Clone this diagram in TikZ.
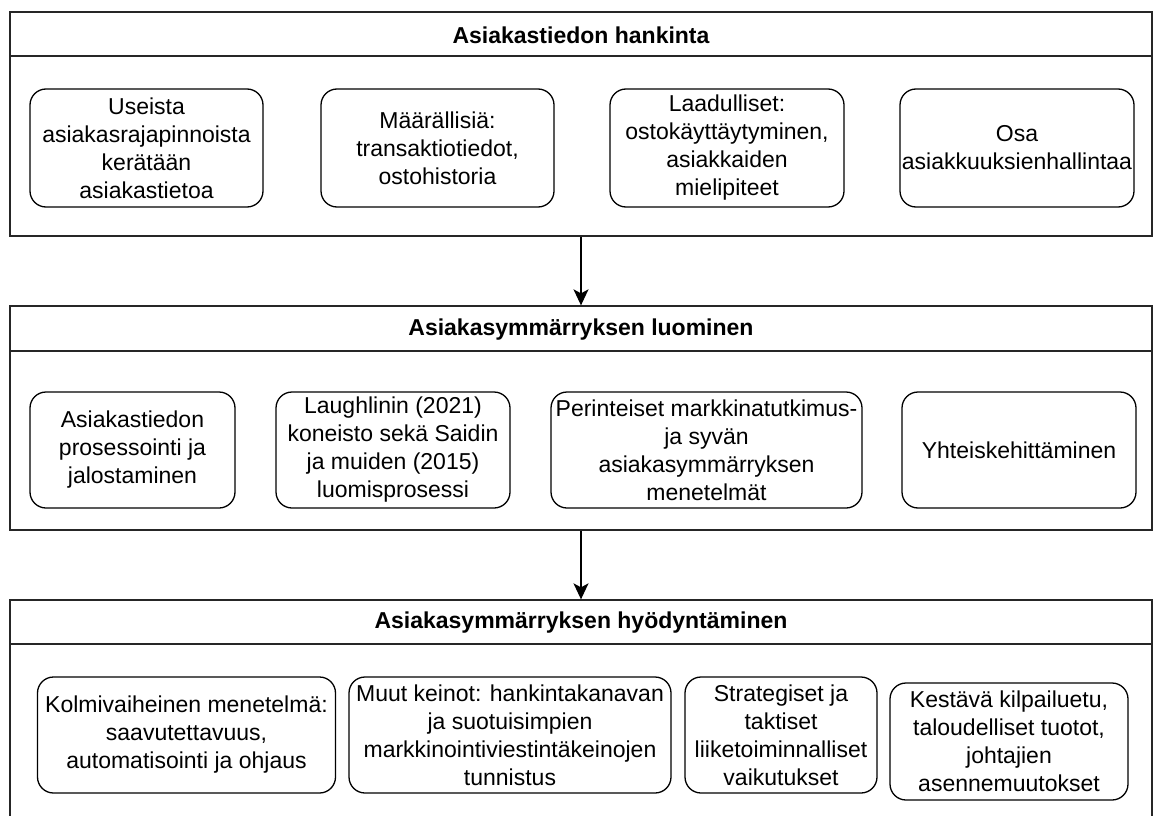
\documentclass[tikz,border=0pt]{standalone}
\usepackage{fontspec}
\setmainfont{Liberation Sans}
\usetikzlibrary{arrows.meta}
\tikzset{
  panel/.style={draw=black!85, line width=1.3pt, minimum width=1142pt, inner sep=0pt},
  ptitle/.style={font=\fontsize{23}{28}\selectfont\bfseries, inner sep=0pt},
  item/.style={draw=black, line width=1.3pt, rounded corners=16pt, inner sep=0pt, align=center,
    font=\fontsize{23}{28}\selectfont},
  flow/.style={line width=1.5pt, -{Stealth[length=16pt,width=15pt,inset=4pt]}},
  hdr/.style={draw=black!85, line width=1.3pt}
}
\begin{document}
\begin{tikzpicture}[x=1pt,y=-1pt]
\useasboundingbox (0,0) rectangle (1154,816);
\clip (0,0) rectangle (1154,816);
\fill[white] (0,0) rectangle (1154,816);

% Panel 1
\node[panel, minimum height=224pt] (p1) at (581,124) {};
\draw[hdr] (10,56) -- (1152,56);
\node[ptitle] (t1) at (581,35) {Asiakastiedon hankinta};
\node[item, minimum width=233pt, minimum height=118pt] (b11) at (146.5,148) {Useista\\asiakasrajapinnoista\\kerätään\\asiakastietoa};
\node[item, minimum width=233pt, minimum height=118pt] (b12) at (437.5,148) {Määrällisiä:\\transaktiotiedot,\\ostohistoria};
\node[item, minimum width=234pt, minimum height=118pt] (b13) at (727,148) {Laadulliset:\\ostokäyttäytyminen,\\asiakkaiden\\mielipiteet};
\node[item, minimum width=234pt, minimum height=118pt] (b14) at (1017,148) {Osa\\asiakkuuksienhallintaa};

% Panel 2
\node[panel, minimum height=224pt] (p2) at (581,418) {};
\draw[hdr] (10,351) -- (1152,351);
\node[ptitle] (t2) at (581,330) {Asiakasymmärryksen luominen};
\node[item, minimum width=205pt, minimum height=116pt] (b21) at (132.5,450) {Asiakastiedon\\prosessointi ja\\jalostaminen};
\node[item, minimum width=234pt, minimum height=116pt] (b22) at (393,450) {Laughlinin (2021)\\koneisto sekä Saidin\\ja muiden (2015)\\luomisprosessi};
\node[item, minimum width=311pt, minimum height=116pt] (b23) at (706.5,450) {Perinteiset markkinatutkimus-\\ja syvän\\asiakasymmärryksen\\menetelmät};
\node[item, minimum width=234pt, minimum height=116pt] (b24) at (1019,450) {Yhteiskehittäminen};

% Panel 3
\node[panel, minimum height=240pt] (p3) at (581,720) {};
\draw[hdr] (10,644) -- (1152,644);
\node[ptitle] (t3) at (581,623) {Asiakasymmärryksen hyödyntäminen};
\node[item, minimum width=298pt, minimum height=116pt] (b31) at (186.5,735) {Kolmivaiheinen menetelmä:\\saavutettavuus,\\automatisointi ja ohjaus};
\node[item, minimum width=322pt, minimum height=116pt] (b32) at (510,735) {Muut keinot: hankintakanavan\\ja suotuisimpien\\markkinointiviestintäkeinojen\\tunnistus};
\node[item, minimum width=192pt, minimum height=116pt] (b33) at (781,735) {Strategiset ja\\taktiset\\liiketoiminnalliset\\vaikutukset};
\node[item, minimum width=238pt, minimum height=117pt] (b34) at (1009,741.5) {Kestävä kilpailuetu,\\taloudelliset tuotot,\\johtajien\\asennemuutokset};

% Connectors
\draw[flow] (p1.south) -- (p2.north);
\draw[flow] (p2.south) -- (p3.north);
\end{tikzpicture}
\end{document}
